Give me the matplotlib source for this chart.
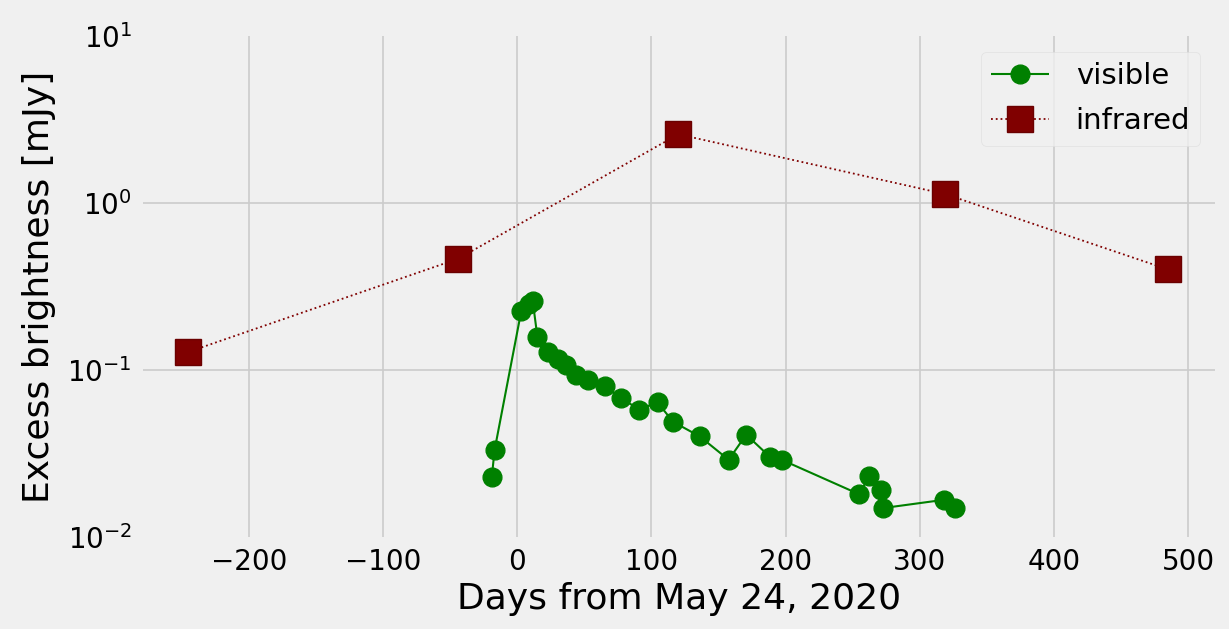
import matplotlib
matplotlib.use("Agg")
import matplotlib.pyplot as plt

# Light curve of the excess emission, days measured from May 24, 2020
visible_days = [-19, -17, 3, 9, 11.5, 15, 22.6, 30, 36.3, 43.8, 52.5, 65, 77,
                91, 104.5, 116, 136, 157.5, 170.6, 188.6, 197,
                255, 262, 271, 272.6, 318, 326]
visible_flux = [0.0229, 0.033, 0.227, 0.25, 0.258, 0.157, 0.129, 0.116, 0.107,
                0.093, 0.087, 0.080, 0.068, 0.058, 0.064, 0.049, 0.040,
                0.029, 0.041, 0.030, 0.029,
                0.018, 0.0231, 0.0191, 0.0149, 0.0167, 0.0150]

infrared_days = [-245.5, -44, 120, 319, 485]
infrared_flux = [0.128, 0.464, 2.58, 1.13, 0.40]

plt.style.use("fivethirtyeight")
plt.rcParams["font.family"] = ["DejaVu Sans"]

fig = plt.figure(figsize=(12.29, 6.29), dpi=100)
fig.patch.set_facecolor("#f0f0f0")
ax = fig.add_axes([143 / 1229, 1 - 537 / 629, (1215 - 143) / 1229, (537 - 36) / 629])
ax.set_facecolor("#f0f0f0")

ax.plot(visible_days, visible_flux, "-o", color="green", lw=1.5,
        markersize=13.5, label="visible", zorder=3)
ax.plot(infrared_days, infrared_flux, ":s", color="#800000", lw=1.3,
        markersize=19, markeredgecolor="#6a0000", markeredgewidth=1.0,
        label="infrared", zorder=3)

ax.set_yscale("log")
ax.set_ylim(1e-2, 1e1)
ax.set_xlim(-279, 520)
ax.set_xticks([-200, -100, 0, 100, 200, 300, 400, 500])
ax.grid(True, which="major", color="#cbcbcb", lw=1.2)
ax.grid(False, which="minor")
ax.tick_params(axis="both", which="major", labelsize=20, length=0, pad=8)
ax.tick_params(axis="y", which="minor", length=0)
for s in ax.spines.values():
    s.set_visible(False)

# the decade lines at the very top and bottom of the range stay hidden
fig.canvas.draw()
for tick in ax.yaxis.get_major_ticks():
    v = tick.get_loc()
    if abs(v - 1e-2) < 1e-9 or abs(v - 1e1) < 1e-6:
        tick.gridline.set_visible(False)

ax.set_xlabel("Days from May 24, 2020", fontsize=26, labelpad=4)
ax.set_ylabel("Excess brightness [mJy]", fontsize=26, labelpad=8)

leg = ax.legend(loc="upper right", fontsize=21, frameon=True, borderpad=0.35,
                handlelength=2.0, handletextpad=0.9, labelspacing=0.6,
                bbox_to_anchor=(1.0, 0.998))
leg.get_frame().set_facecolor("#f0f0f0")
leg.get_frame().set_edgecolor("#dddddd")

fig.savefig("out.png", dpi=100, facecolor=fig.get_facecolor())
